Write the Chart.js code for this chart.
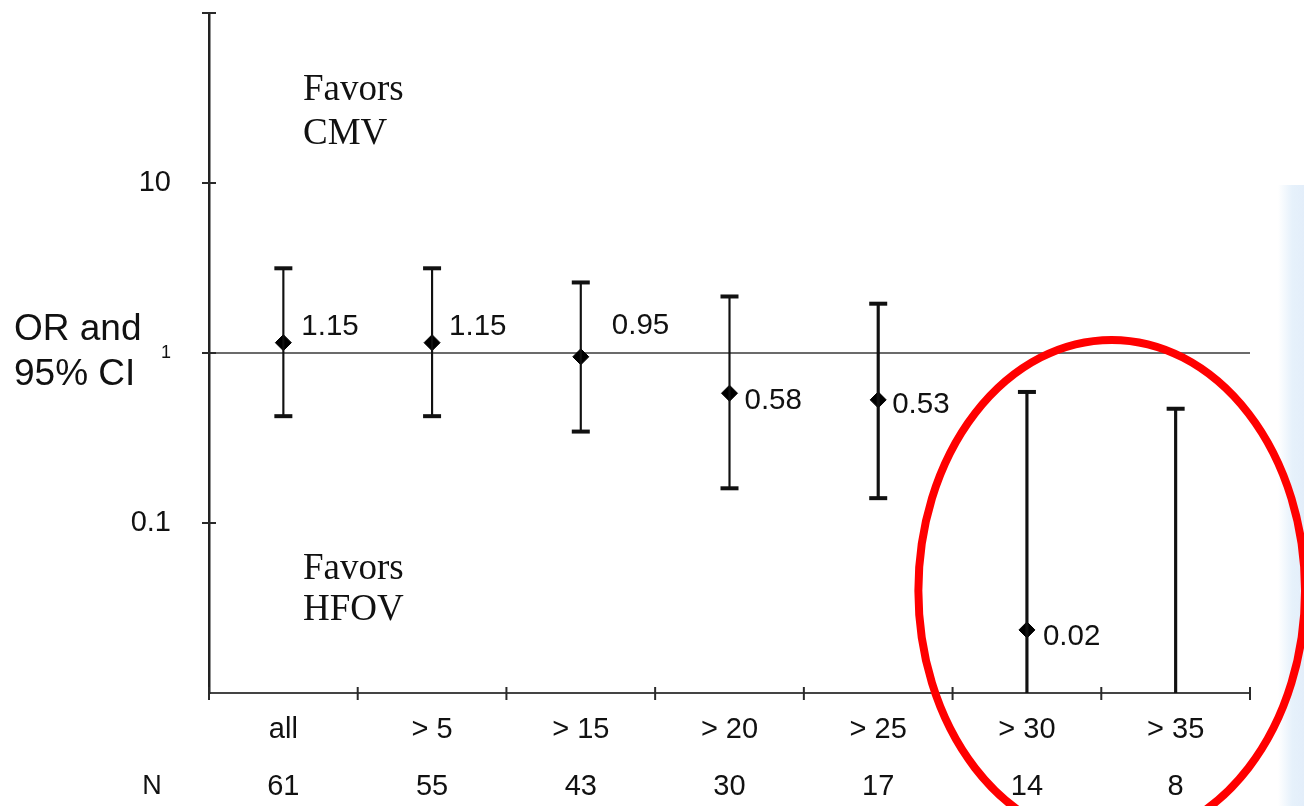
<!DOCTYPE html>
<html lang="en">
<head>
<meta charset="UTF-8">
<title>OR and 95% CI by subgroup</title>
<script src="https://cdn.jsdelivr.net/npm/chart.js"></script>
<style>
  html, body { margin: 0; padding: 0; background: #fff; }
  #wrap { position: relative; width: 1304px; height: 806px; overflow: hidden; }
  /* pale blue slide edge on the right */
  #edge { position: absolute; left: 1278px; top: 185px; width: 26px; height: 621px;
          background: linear-gradient(to right, #ffffff, #e6f1fb 55%, #e3eefa); }
  #orChart { position: absolute; left: 0; top: 0; }
</style>
</head>
<body>
<div id="wrap">
  <div id="edge"></div>
  <canvas id="orChart" width="1304" height="806"></canvas>
</div>
<script>
// --- data ---
const categories = ['all', '> 5', '> 15', '> 20', '> 25', '> 30', '> 35'];
const nCounts = ['61', '55', '43', '30', '17', '14', '8'];
const oddsRatio = [1.15, 1.15, 0.95, 0.58, 0.53, 0.0235, null];
const ciUpper = [3.15, 3.15, 2.6, 2.15, 1.95, 0.59, 0.47];
const ciLower = [0.425, 0.425, 0.345, 0.16, 0.14, null, null]; // null = runs past the bottom of the axis
const orLabels = ['1.15', '1.15', '0.95', '0.58', '0.53', '0.02', null];
const yTicks = [0.1, 1, 10, 100];
const Y_MIN = 0.01;
const Y_MAX = 100;

const SANS = "'Liberation Sans', Arial, sans-serif";
const SERIF = "'Liberation Serif', 'Times New Roman', serif";
const INK = '#111';

// whiskers as floating bars, thin ones for the first four groups
const whisker = i => [ciLower[i] ?? Y_MIN, ciUpper[i]];
const thinBars = categories.map((_, i) => i < 4 ? whisker(i) : null);
const thickBars = categories.map((_, i) => i >= 4 ? whisker(i) : null);

// pixel offsets of the OR value labels from their diamonds
const labelOffsets = [[18, -16], [17, -16], [31, -31], [15, 8], [14, 5], [16, 7]];

const decorations = {
    id: 'decorations',
    beforeDatasetsDraw(chart) {
        const { ctx, chartArea: a, scales: { y } } = chart;
        const y1 = y.getPixelForValue(1);
        ctx.save();
        ctx.strokeStyle = '#3a3a3a';
        ctx.lineWidth = 1.5;
        ctx.beginPath();
        ctx.moveTo(a.left, y1);
        ctx.lineTo(a.right, y1);
        ctx.stroke();
        ctx.restore();
    },
    afterDraw(chart) {
        const { ctx, chartArea: a, scales: { x, y } } = chart;
        ctx.save();

        // tick marks crossing both axes
        ctx.strokeStyle = '#2a2a2a';
        ctx.lineWidth = 2;
        const half = (x.getPixelForValue(1) - x.getPixelForValue(0)) / 2;
        for (let i = 0; i <= categories.length; i++) {
            const px = x.getPixelForValue(i) - half;
            ctx.beginPath();
            ctx.moveTo(px, a.bottom - 6);
            ctx.lineTo(px, a.bottom + 7);
            ctx.stroke();
        }
        yTicks.forEach(v => {
            const py = y.getPixelForValue(v);
            ctx.beginPath();
            ctx.moveTo(a.left - 7, py);
            ctx.lineTo(a.left + 7, py);
            ctx.stroke();
        });

        // OR value labels
        ctx.fillStyle = INK;
        ctx.font = '29.5px ' + SANS;
        ctx.textAlign = 'left';
        ctx.textBaseline = 'middle';
        orLabels.forEach((t, i) => {
            if (!t) return;
            const [dx, dy] = labelOffsets[i];
            ctx.fillText(t, x.getPixelForValue(i) + dx, y.getPixelForValue(oddsRatio[i]) + dy);
        });

        // y axis title, written horizontally
        const y1 = y.getPixelForValue(1);
        ctx.font = '37px ' + SANS;
        ctx.fillText('OR and', 14, y1 - 23);
        ctx.fillText('95% CI', 14, y1 + 22);

        // "N" row heading
        ctx.font = '27px ' + SANS;
        ctx.textAlign = 'center';
        ctx.fillText('N', a.left - 57, a.bottom + 94);

        // favour notes
        ctx.font = '37px ' + SERIF;
        ctx.textAlign = 'left';
        ctx.textBaseline = 'alphabetic';
        ctx.fillText('Favors', a.left + 94, a.top + 87);
        ctx.fillText('CMV', a.left + 94, a.top + 131);
        ctx.fillText('Favors', a.left + 94, a.bottom - 114);
        ctx.fillText('HFOV', a.left + 94, a.bottom - 73);

        // red highlight ellipse around the last two groups
        const decade = y.getPixelForValue(0.1) - y.getPixelForValue(1);
        const cx = x.getPixelForValue(5.57);
        const cy = y.getPixelForValue(0.04);
        ctx.strokeStyle = '#ff0000';
        ctx.lineWidth = 8;
        ctx.beginPath();
        ctx.ellipse(cx, cy, half * 2 * 1.3, decade * 1.475, 0, 0, Math.PI * 2);
        ctx.stroke();

        ctx.restore();
    }
};

const ctx = document.getElementById('orChart').getContext('2d');
new Chart(ctx, {
    type: 'bar',
    data: {
        labels: categories.map((c, i) => [c, nCounts[i]]),
        datasets: [
            { type: 'bar', data: thinBars, backgroundColor: INK, barThickness: 1.5, grouped: false },
            { type: 'bar', data: thickBars, backgroundColor: INK, barThickness: 2.5, grouped: false },
            {
                type: 'line', data: ciUpper, showLine: false,
                pointStyle: 'line', pointRadius: 9, pointBorderWidth: 4, borderColor: INK
            },
            {
                type: 'line', data: ciLower, showLine: false,
                pointStyle: 'line', pointRadius: 9, pointBorderWidth: 4, borderColor: INK
            },
            {
                type: 'line', data: oddsRatio, showLine: false,
                pointStyle: 'rectRot', pointRadius: 8, pointBorderWidth: 1,
                pointBackgroundColor: '#000', pointBorderColor: '#000'
            }
        ]
    },
    options: {
        responsive: false,
        animation: false,
        layout: { padding: { top: 13, right: 54, left: 0, bottom: 0 } },
        plugins: { legend: { display: false }, tooltip: { enabled: false } },
        scales: {
            x: {
                offset: true,
                grid: { display: false, drawTicks: false },
                border: { display: true, color: '#444', width: 2 },
                ticks: {
                    color: INK,
                    padding: 8.5,
                    maxRotation: 0,
                    font: { family: SANS, size: 29, lineHeight: 57 / 29 }
                },
                afterFit: s => { s.height = 113; s.paddingLeft = 0; s.paddingRight = 0; }
            },
            y: {
                type: 'logarithmic',
                min: Y_MIN,
                max: Y_MAX,
                grid: { display: false, drawTicks: false },
                border: { display: true, color: '#222', width: 2.5 },
                afterBuildTicks: s => { s.ticks = yTicks.map(v => ({ value: v })); },
                ticks: {
                    color: INK,
                    padding: 38,
                    font: c => ({ family: SANS, size: c.tick && c.tick.value === 1 ? 18 : 29 }),
                    callback: v => v >= 100 ? '' : String(v)
                },
                afterFit: s => { s.width = 209; s.paddingTop = 0; s.paddingBottom = 0; }
            }
        }
    },
    plugins: [decorations]
});
</script>
</body>
</html>
